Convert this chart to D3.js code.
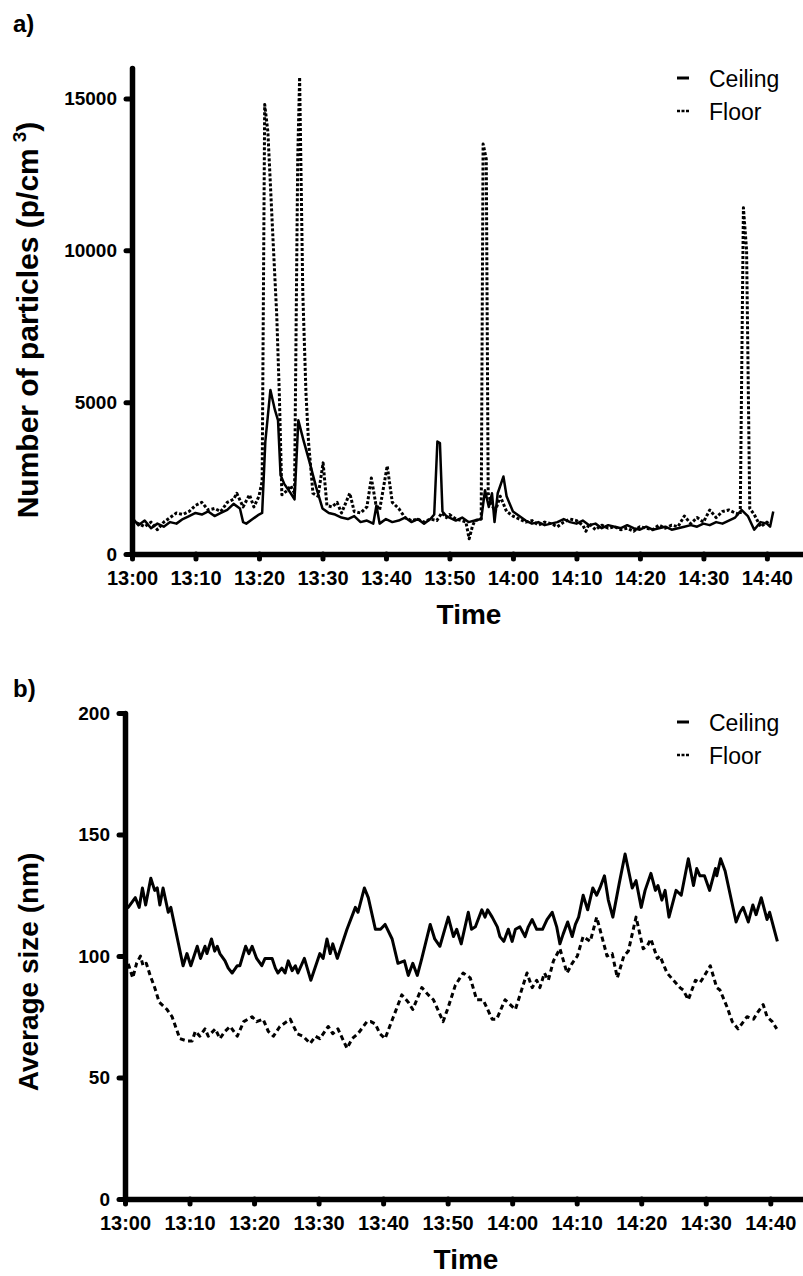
<!DOCTYPE html>
<html>
<head>
<meta charset="utf-8">
<script src="https://cdn.jsdelivr.net/npm/d3@7"></script>
<style>
  body { margin: 0; background: #fff; }
  svg { display: block; font-family: "Liberation Sans", Arial, Helvetica, sans-serif; }
</style>
</head>
<body>
<svg id="chart" width="803" height="1276"></svg>
<script>
// minutes after 13:00 and values

// a) number of particles (p/cm3)
const ceilCountMin = [0,1,2,3,4,5,6,7,8,9,10,11,12,13,14,15,16,17,17.5,18,19,20,20.5,21,21.8,22.5,23,23.4,24,25,25.6,26.2,27,28,29,30,31,32,33,34,35,36,37,38,38.5,39,40,41,42,43,44,45,46,47,47.6,48.1,48.5,48.9,49.5,50,51,52,53,54,55,55.6,56.2,56.7,57.1,57.6,58.5,59,60,61,62,63,64,65,66,67,68,69,70,71,72,73,74,75,76,77,78,79,80,81,82,83,84,85,86,87,88,89,90,91,92,93,94,95,96,97,98,99,100,100.5,101];
const ceilCount = [1200,950,1100,850,1000,900,1050,1000,1150,1250,1350,1300,1400,1250,1350,1450,1650,1500,1050,1000,1150,1300,1350,3700,5400,4750,4400,2600,2300,2000,1800,4400,3750,3000,2200,1500,1350,1300,1200,1150,1250,1050,1100,1000,1600,1000,1150,1050,1100,1200,1050,1150,1000,1150,1300,3700,3650,1400,1250,1200,1100,1200,1050,1100,1150,2100,1550,2000,1050,2000,2550,1900,1400,1250,1100,1000,1050,950,1000,1050,1150,1050,1000,1100,950,1000,850,950,900,850,950,850,800,900,800,850,900,800,850,900,950,900,1000,950,1050,1000,1100,1200,1450,1250,800,1050,1000,900,1400];

const floorCountMin = [0,1,2,3,4,5,6,7,8,9,10,11,12,13,14,15,16,16.5,17.5,18.5,19.2,20,20.5,20.9,21.4,22.2,22.8,23.2,23.6,24.5,25,25.6,26.1,26.4,26.9,27.4,27.8,28.5,29.3,30.1,30.7,31.5,32.3,33,34.3,35,36,37,37.7,38.4,39,40.2,41,42,43,44,45,46,47,48,48.8,49.5,50,51,52,52.6,53.1,53.6,54,55,55.3,55.8,56.1,56.6,57.2,58,59,60,61,62,63,64,65,66,67,68,69,70,71,71.5,72,73,74,75,76,77,78,79,80,81,82,83,84,85,86,87,88,89,90,91,92,93,94,95,95.8,96.3,96.8,97.3,98,99,100,100.5];
const floorCount = [1100,1000,900,1050,800,1050,1200,1350,1300,1400,1600,1700,1450,1500,1400,1700,1800,2000,1550,1950,1550,1900,2400,14800,13900,10400,7850,5300,1950,2100,2250,2000,13000,15700,8600,5300,3700,2000,1900,3000,1600,1550,1700,1350,2000,1400,1350,1550,2500,1650,1450,2900,1700,1500,1200,1100,1150,1050,1150,1100,1350,1200,1300,1150,1100,1050,500,900,1100,1150,13500,13000,2000,1650,1400,1900,1400,1250,1150,1050,1100,950,1050,1000,900,1050,1150,1100,950,750,1000,800,950,850,900,800,850,750,900,850,800,950,850,950,900,1250,1000,1200,1050,1450,1200,1400,1450,1350,1300,11400,10000,1500,1300,900,1050,950];

// b) average size (nm)
const ceilSizeMin = [0,0.5,1.6,2.2,2.7,3.2,4,4.6,5,5.4,5.9,6.7,7.1,9,9.6,10.2,11.2,11.7,12.4,12.7,13.4,13.9,14.3,14.7,15.5,16,16.6,17.4,17.8,18.7,19.2,19.7,20.4,21.2,21.7,22.2,22.8,23.3,23.7,24.3,24.8,25.3,25.9,26.4,26.8,27.8,28.8,30.2,30.7,31.3,31.8,32.2,32.9,34.4,35.7,36.1,37.1,37.7,38.8,39.6,40.3,41.4,42.3,43.3,43.9,44.6,45.3,46,47.3,48,48.8,50.1,50.9,51.4,52.1,53.2,53.7,54.3,55.3,55.8,56.2,56.9,57.7,58.1,58.7,59.4,60,60.5,61.2,62,62.5,63.1,63.8,64.7,65.4,66.2,66.9,67.4,67.9,68.6,69.3,69.8,70.3,71,71.7,72.5,73.1,73.6,74.3,74.9,75.6,76.6,77.5,78.6,79.2,80,80.6,81.5,82.2,82.6,83.2,83.7,84.3,85.4,86.2,87.3,88.1,88.6,89.1,89.8,90.6,91.5,91.7,92.3,93,94.7,95.3,95.8,96.6,97.3,97.8,98.6,99.5,99.9,100.6,101.1];
const ceilSize = [121,120,124,120,128,121,132,127,128,121,128,118,120,96,101,96,104,99,104,101,107,102,104,101,98,95,93,96,96,104,101,104,99,96,99,99,99,95,93,95,93,98,94,96,93,99,90,101,99,107,101,105,99,111,120,118,128,124,111,111,113,107,97,98,92,97,92,99,113,107,104,116,108,111,105,118,111,112,119,116,119,116,112,108,106,111,106,111,112,108,112,115,111,111,115,118,112,105,109,114,108,113,116,125,119,128,125,128,133,123,116,130,142,128,131,120,127,134,127,129,123,127,116,127,125,140,129,136,133,133,127,136,133,140,135,114,118,120,114,121,117,124,115,118,111,106];

const floorSizeMin = [0,0.6,1.2,1.8,2.4,2.8,3.3,3.9,4.6,5.3,6.5,7.3,8.5,9.6,10.4,10.9,11.6,12.4,12.9,14,14.7,15.5,16.3,17.4,18.4,19.7,20.4,21.4,22.2,23,24,25.6,26.7,27.6,28.7,29.5,30.2,31.5,32.2,33,34.4,35.2,36.1,37.5,38.1,38.8,39.5,40.3,41.6,42.9,43.9,44.6,46,47,47.8,49.3,50.1,51.2,52.4,53.5,54.5,55.5,56.9,57.6,58.9,59.7,60.5,62.3,63.1,63.8,64.3,65,65.6,66.4,67.4,68.5,69.3,70.1,71,72.1,73.1,73.9,74.7,75.5,76.3,77.3,78,79.2,80.3,80.9,81.5,82.5,82.9,84,85,86,86.5,87.3,88.4,89.1,89.6,90.7,91.7,92.2,93.3,94.1,95,96.4,97.4,98.1,98.9,99.5,100.3,101];
const floorSize = [100,96,91,97,100,96,97,92,87,81,78,75,66,65,65,69,67,70,67,70,66,69,71,67,73,75,73,74,69,67,71,74,68,67,64,67,66,71,68,70,62,66,68,73,73,72,68,66,75,84,81,78,87,84,82,73,79,88,93,91,82,82,74,74,82,80,78,93,87,90,87,93,90,98,103,93,97,100,108,106,116,108,100,101,91,100,102,116,103,104,107,99,100,93,90,87,86,82,90,89,91,96,87,86,79,73,70,75,74,77,80,75,73,70];

const timeTicks = ["13:00","13:10","13:20","13:30","13:40","13:50","14:00","14:10","14:20","14:30","14:40"];
const countTicks = [0, 5000, 10000, 15000];
const sizeTicks = [0, 50, 100, 150, 200];
const seriesNames = ["Ceiling", "Floor"];

const t0 = new Date(2000, 0, 1, 13, 0);
const toDate = m => new Date(t0.getTime() + m * 60000);
const parseHM = d3.timeParse("%H:%M");
const tickDates = timeTicks.map(s => {
    let d = parseHM(s);
    return new Date(2000, 0, 1, d.getHours(), d.getMinutes());
});

const svg = d3.select("#chart");

function zip(mins, vals) {
    return mins.map((m, i) => ({t: toDate(m), v: vals[i]}));
}

function drawPanel(opt) {
    let x = d3.scaleTime().domain([toDate(0), toDate(opt.endMin)]).range(opt.xRange);
    let y = d3.scaleLinear().domain(opt.yDomain).range(opt.yRange);

    let line = d3.line().x(d => x(d.t)).y(d => y(d.v));

    let g = svg.append("g");

    // floor first, ceiling on top
    g.append("path")
        .datum(zip(opt.floorMin, opt.floorVal))
        .attr("fill", "none")
        .attr("stroke", "#000")
        .attr("stroke-width", opt.dashWidth)
        .attr("stroke-dasharray", opt.dash)
        .attr("stroke-linejoin", "round")
        .attr("d", line);

    g.append("path")
        .datum(zip(opt.ceilMin, opt.ceilVal))
        .attr("fill", "none")
        .attr("stroke", "#000")
        .attr("stroke-width", opt.solidWidth)
        .attr("stroke-linejoin", "round")
        .attr("d", line);

    // axes
    let xAxis = g.append("g")
        .attr("transform", `translate(0,${opt.yRange[0]})`)
        .call(d3.axisBottom(x)
            .tickValues(tickDates)
            .tickFormat(d3.timeFormat("%H:%M"))
            .tickSize(5)
            .tickSizeOuter(0)
            .tickPadding(12));

    let yAxis = g.append("g")
        .attr("transform", `translate(${opt.xRange[0]},0)`)
        .call(d3.axisLeft(y)
            .tickValues(opt.yTicks)
            .tickFormat(d3.format("d"))
            .tickSize(6)
            .tickSizeOuter(0)
            .tickPadding(9));

    [xAxis, yAxis].forEach(a => {
        a.select(".domain")
            .attr("stroke-width", 5.5)
            .attr("stroke-linecap", "round");
        a.selectAll(".tick line")
            .attr("stroke-width", 5)
            .attr("stroke-linecap", "round");
        a.selectAll(".tick text")
            .attr("fill", "#000")
            .style("font-size", "19px")
            .style("font-weight", "bold");
    });
    xAxis.selectAll(".tick text").style("font-size", "20px");

    // axis titles
    g.append("text")
        .attr("x", opt.timeX)
        .attr("y", opt.yRange[0] + 70)
        .attr("text-anchor", "middle")
        .style("font-size", "28px")
        .style("font-weight", "bold")
        .text("Time");

    let yt = g.append("text")
        .attr("transform", `translate(38,${opt.titleY}) rotate(-90)`)
        .attr("text-anchor", "middle")
        .style("font-size", opt.titleSize)
        .style("font-weight", "bold");
    opt.yTitle(yt);

    // panel letter
    g.append("text")
        .attr("x", 13)
        .attr("y", opt.letterY)
        .style("font-size", "24px")
        .style("font-weight", "bold")
        .text(opt.letter);

    // legend
    let leg = g.append("g").attr("transform", `translate(677,${opt.legendY})`);
    seriesNames.forEach((name, i) => {
        let row = leg.append("g").attr("transform", `translate(0,${i * 33})`);
        row.append("line")
            .attr("x1", 0).attr("x2", 12)
            .attr("y1", 0).attr("y2", 0)
            .attr("stroke", "#000")
            .attr("stroke-width", i === 0 ? 3 : 2.5)
            .attr("stroke-dasharray", i === 0 ? null : "3,1.5");
        row.append("text")
            .attr("x", 32)
            .attr("y", 9)
            .style("font-size", "23px")
            .text(name);
    });
}

drawPanel({
    letter: "a)", letterY: 32,
    xRange: [132, 805], endMin: 106,
    yDomain: [0, 16000], yRange: [554, 68], yTicks: countTicks,
    ceilMin: ceilCountMin, ceilVal: ceilCount,
    floorMin: floorCountMin, floorVal: floorCount,
    solidWidth: 2.5, dashWidth: 3, dash: "3,2",
    timeX: 469, titleY: 320, titleSize: "30px", legendY: 78,
    yTitle: t => {
        t.append("tspan").text("Number of particles (p/cm");
        t.append("tspan").attr("dx", 6).attr("dy", -12).style("font-size", "19px").text("3");
        t.append("tspan").attr("dy", 12).text(")");
    }
});

drawPanel({
    letter: "b)", letterY: 697,
    xRange: [125, 809], endMin: 106,
    yDomain: [0, 200], yRange: [1199, 713], yTicks: sizeTicks,
    ceilMin: ceilSizeMin, ceilVal: ceilSize,
    floorMin: floorSizeMin, floorVal: floorSize,
    solidWidth: 3, dashWidth: 3, dash: "5,3.5",
    timeX: 466, titleY: 972, titleSize: "28px", legendY: 722,
    yTitle: t => t.text("Average size (nm)")
});
</script>
</body>
</html>
